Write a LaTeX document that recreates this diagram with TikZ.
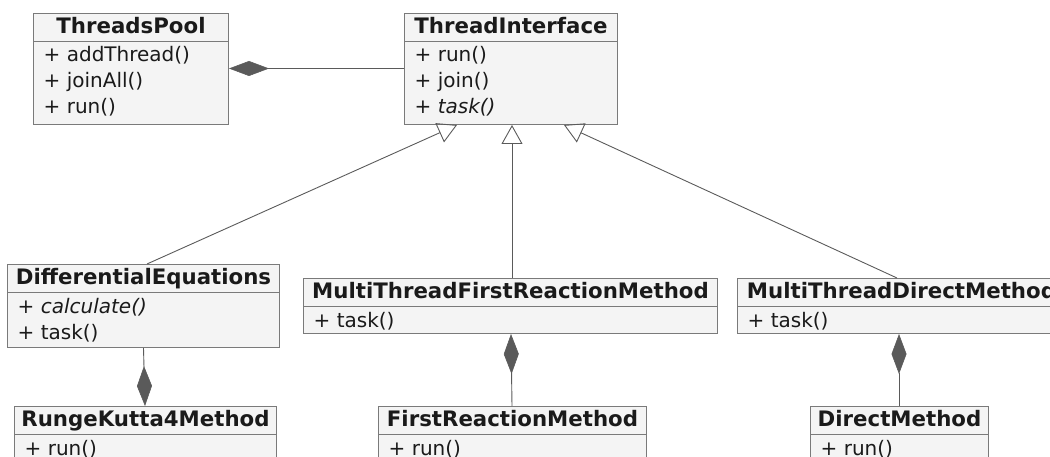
\documentclass[tikz,border=0pt]{standalone}
\usepackage{fontspec}
\setmainfont{DejaVu Sans}
\usetikzlibrary{arrows.meta,calc}
\definecolor{boxfill}{HTML}{F4F4F4}
\definecolor{boxline}{HTML}{7A7A7A}
\definecolor{wire}{HTML}{5A5A5A}
\definecolor{ink}{HTML}{1A1A1A}

% one UML class: name, left, top, width, height, title
\newcommand\umlclass[6]{%
  \node[classbox, minimum width=#4pt, minimum height=#5pt] (#1) at (#2,#3) {};
  \node[classtitle] (#1-title) at ($(#1.north)+(0,20.5)$) {#6};
  \draw[boxline, line width=1pt] ($(#1.north west)+(0,28.5)$) -- ($(#1.north east)+(0,28.5)$);
}
% one member line: node name, class name, row index, text
\newcommand\umlmember[4]{%
  \node[member] (#1) at ($(#2.north west)+(10.5,49+26*#3)$) {#4};
}

\begin{document}
\begin{tikzpicture}[x=1pt,y=-1pt,
  classbox/.style={draw=boxline, fill=boxfill, line width=1pt, rectangle, inner sep=0pt, anchor=north west},
  classtitle/.style={font=\fontsize{21.3}{23}\selectfont\bfseries, text=ink, anchor=base, inner sep=0pt},
  member/.style={font=\fontsize{20}{22}\selectfont, text=ink, anchor=base west, inner sep=0pt},
  wire/.style={draw=wire, line width=0.9pt},
  inherit/.style={wire, -{Triangle[open, length=19pt, width=21pt, line width=0.9pt]}},
  compose/.style={wire, -{Diamond[length=40pt, width=15pt, fill=wire, line width=0.6pt]}}
]
\useasboundingbox (0,0) rectangle (1050,457);
\clip (0,0) rectangle (1050,457);

\umlclass{tp}{33}{13}{195}{111}{ThreadsPool}
\umlmember{tp-1}{tp}{0}{+ addThread()}
\umlmember{tp-2}{tp}{1}{+ joinAll()}
\umlmember{tp-3}{tp}{2}{+ run()}

\umlclass{ti}{404}{13}{213}{111}{ThreadInterface}
\umlmember{ti-1}{ti}{0}{+ run()}
\umlmember{ti-2}{ti}{1}{+ join()}
\umlmember{ti-3}{ti}{2}{+ \textit{task()}}

\umlclass{de}{7}{264}{272}{83}{DifferentialEquations}
\umlmember{de-1}{de}{0}{+ \textit{calculate()}}
\umlmember{de-2}{de}{1}{+ task()}

\umlclass{rk}{14}{406}{262}{57}{RungeKutta4Method}
\umlmember{rk-1}{rk}{0}{+ run()}

\umlclass{mf}{303}{278}{414}{55}{MultiThreadFirstReactionMethod}
\umlmember{mf-1}{mf}{0}{+ task()}

\umlclass{fr}{378}{406}{268}{57}{FirstReactionMethod}
\umlmember{fr-1}{fr}{0}{+ run()}

\umlclass{md}{737}{278}{328}{55}{MultiThreadDirectMethod}
\umlmember{md-1}{md}{0}{+ task()}

\umlclass{dm}{810}{406}{178}{57}{DirectMethod}
\umlmember{dm-1}{dm}{0}{+ run()}

% generalisations
\draw[inherit] ($(de.north west)+(140,0)$) -- ($(ti.south west)+(53,0)$);
\draw[inherit] ($(mf.north west)+(209,0)$) -- ($(ti.south west)+(108,0)$);
\draw[inherit] ($(md.north west)+(160,0)$) -- ($(ti.south west)+(160,0)$);

% compositions
\draw[compose] ($(ti.north west)+(0,55.5)$) -- ($(tp.north east)+(0,55.5)$);
\draw[compose] ($(de.south west)+(136.5,0)$) -- ($(rk.north west)+(131,0)$);
\draw[compose] ($(fr.north west)+(134,0)$) -- ($(mf.south west)+(208,0)$);
\draw[compose] ($(dm.north west)+(89,0)$) -- ($(md.south west)+(162,0)$);
\end{tikzpicture}
\end{document}
